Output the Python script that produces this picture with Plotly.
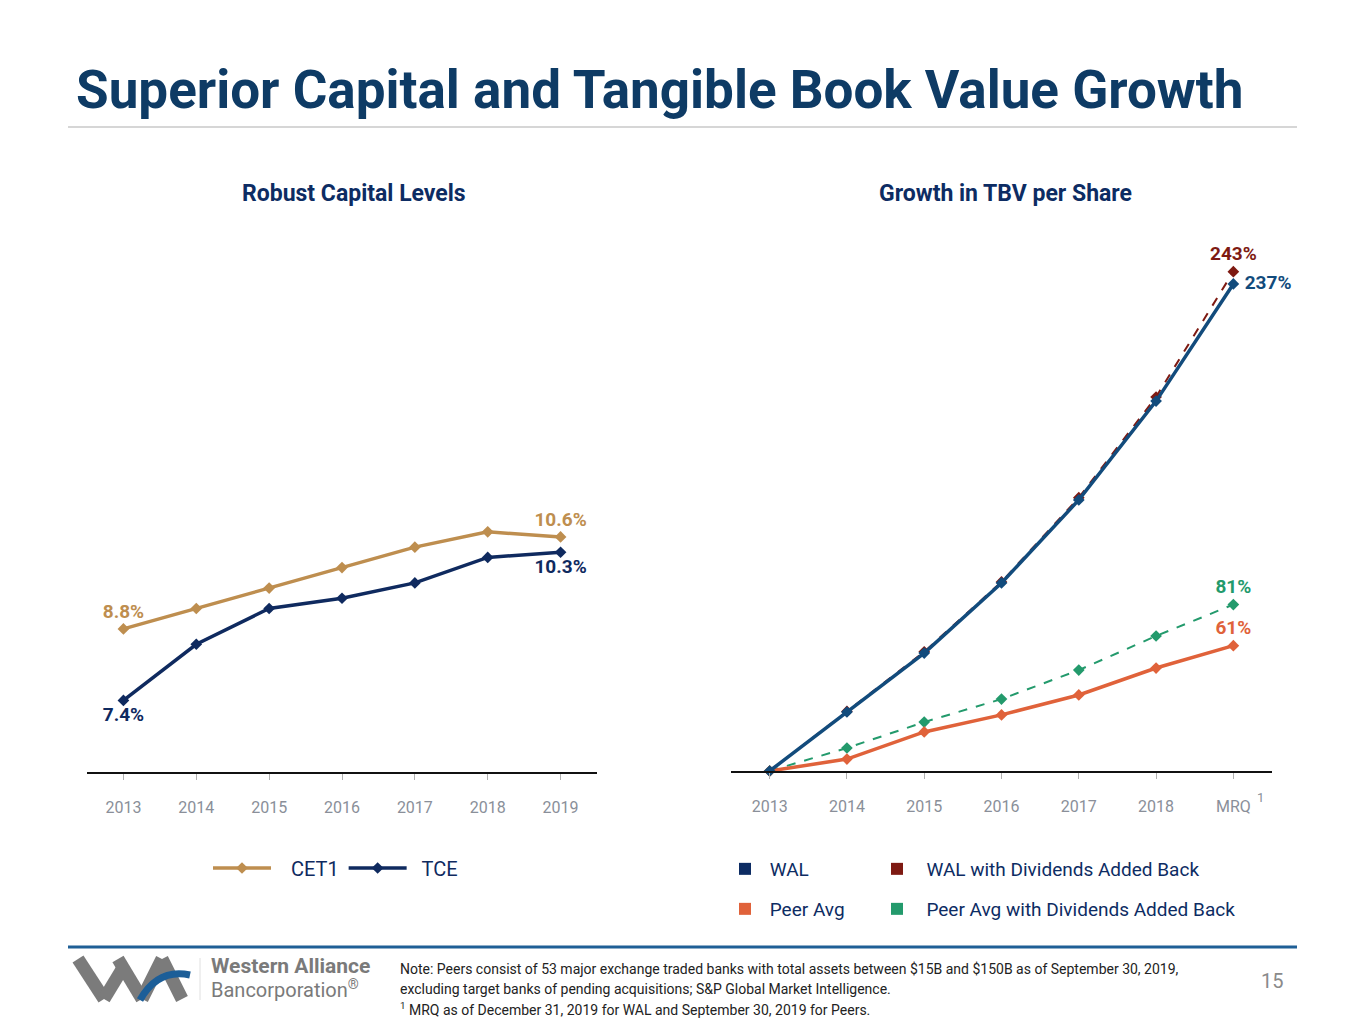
import plotly.graph_objects as go

W, H = 1365, 1024

# left chart data
years = ['2013', '2014', '2015', '2016', '2017', '2018', '2019']
cet1 = [8.8, 9.2, 9.6, 10.0, 10.4, 10.7, 10.6]
tce = [7.4, 8.5, 9.2, 9.4, 9.7, 10.2, 10.3]

# right chart data
periods = ['2013', '2014', '2015', '2016', '2017', '2018', 'MRQ']
wal = [0, 28.7, 57.4, 91.5, 131.9, 180, 237]
wal_div = [0, 29, 58, 92, 133, 182, 243]
peer = [0, 5.8, 19, 27.3, 37, 50.1, 61]
peer_div = [0, 11.2, 23.8, 35, 49.1, 65.7, 81]

NAVY = '#0E3B65'
GOLD = '#BE8E4F'
TCE_C = '#0F2A5F'
WAL_C = '#124B7C'
RED = '#7E1A12'
ORANGE = '#E0623A'
GREEN = '#239A6C'
GREY = '#8A8F99'
FONT = 'Roboto, sans-serif'
NB = '\u00a0'


def px(x):
    return x / W


def py(y):
    return 1 - y / H


def end_label(vals, fmt):
    return [''] * (len(vals) - 1) + ['<b>' + fmt.format(vals[-1]) + '</b>']


def both_ends(vals):
    return (['<b>{:.1f}%</b>'.format(vals[0])] + [''] * (len(vals) - 2)
            + ['<b>{:.1f}%</b>'.format(vals[-1])])


fig = go.Figure()

# ---- left: capital levels
fig.add_trace(go.Scatter(
    x=years, y=cet1, name=NB * 3 + 'CET1', mode='lines+markers+text',
    line=dict(color=GOLD, width=3.5),
    marker=dict(symbol='diamond', size=9, color=GOLD),
    text=both_ends(cet1), textposition='top center',
    textfont=dict(family=FONT, size=19, color=GOLD),
    cliponaxis=False, legend='legend', xaxis='x', yaxis='y'
))
fig.add_trace(go.Scatter(
    x=years, y=tce, name=NB * 2 + 'TCE', mode='lines+markers+text',
    line=dict(color=TCE_C, width=3.5),
    marker=dict(symbol='diamond', size=9, color=TCE_C),
    text=both_ends(tce), textposition='bottom center',
    textfont=dict(family=FONT, size=19, color=TCE_C),
    cliponaxis=False, legend='legend', xaxis='x', yaxis='y'
))

# ---- right: TBV growth
fig.add_trace(go.Scatter(
    x=periods, y=wal_div, mode='lines+markers+text', showlegend=False,
    line=dict(color=RED, width=2, dash='dash'),
    marker=dict(symbol='diamond', size=9, color=RED),
    text=end_label(wal_div, '{:.0f}%'), textposition='top center',
    textfont=dict(family=FONT, size=19, color=RED),
    cliponaxis=False, xaxis='x2', yaxis='y2'
))
fig.add_trace(go.Scatter(
    x=periods, y=peer_div, mode='lines+markers+text', showlegend=False,
    line=dict(color=GREEN, width=2, dash='dash'),
    marker=dict(symbol='diamond', size=9, color=GREEN),
    text=end_label(peer_div, '{:.0f}%'), textposition='top center',
    textfont=dict(family=FONT, size=19, color=GREEN),
    cliponaxis=False, xaxis='x2', yaxis='y2'
))
fig.add_trace(go.Scatter(
    x=periods, y=peer, mode='lines+markers+text', showlegend=False,
    line=dict(color=ORANGE, width=3.5),
    marker=dict(symbol='diamond', size=9, color=ORANGE),
    text=end_label(peer, '{:.0f}%'), textposition='top center',
    textfont=dict(family=FONT, size=19, color=ORANGE),
    cliponaxis=False, xaxis='x2', yaxis='y2'
))
fig.add_trace(go.Scatter(
    x=periods, y=wal, mode='lines+markers+text', showlegend=False,
    line=dict(color=WAL_C, width=3.5),
    marker=dict(symbol='diamond', size=9, color=WAL_C),
    text=end_label(wal, NB + '{:.0f}%'), textposition='middle right',
    textfont=dict(family=FONT, size=19, color=WAL_C),
    cliponaxis=False, xaxis='x2', yaxis='y2'
))

# legend entries for the right chart (square swatches), one legend each
right_legend = [(NB + 'WAL', '#0D2C63', 'legend2'),
                (NB * 2 + 'WAL with Dividends Added Back', RED, 'legend3'),
                (NB + 'Peer Avg', ORANGE, 'legend4'),
                (NB * 2 + 'Peer Avg with Dividends Added Back', GREEN, 'legend5')]
for name, col, lg in right_legend:
    fig.add_trace(go.Scatter(
        x=[None], y=[None], name=name, mode='markers',
        marker=dict(symbol='square', size=12, color=col),
        legend=lg, xaxis='x2', yaxis='y2'
    ))

xaxis_style = dict(
    type='category', range=[-0.5, 6.5], showgrid=False, zeroline=False,
    showline=True, linecolor='#111111', linewidth=2,
    ticks='outside', ticklen=6, tickcolor='#B0B0B0', tickwidth=1,
    ticklabelstandoff=14,
    tickfont=dict(family=FONT, size=16, color=GREY), fixedrange=True
)


def small_legend(x, y):
    return dict(orientation='h', x=px(x), y=py(y), xanchor='left', yanchor='middle',
                font=dict(family=FONT, size=19, color='#0D2C63'),
                bgcolor='rgba(0,0,0,0)')


fig.update_layout(
    width=W, height=H, margin=dict(l=0, r=0, t=0, b=0),
    paper_bgcolor='white', plot_bgcolor='white',
    xaxis=dict(domain=[px(87), px(597)], anchor='y', **xaxis_style),
    yaxis=dict(domain=[py(772), py(250)], range=[6.0, 6.0 + 522 / 51.1],
               visible=False, fixedrange=True),
    xaxis2=dict(domain=[px(731), px(1272)], anchor='y2', **xaxis_style),
    yaxis2=dict(domain=[py(771), py(230)], range=[0, 541 / 2.055],
                visible=False, fixedrange=True),
    legend=dict(orientation='h', x=px(208), y=py(868), xanchor='left', yanchor='middle',
                itemwidth=58, font=dict(family=FONT, size=20, color=TCE_C),
                bgcolor='rgba(0,0,0,0)'),
    legend2=small_legend(725, 869),
    legend3=small_legend(877, 869),
    legend4=small_legend(725, 909),
    legend5=small_legend(877, 909),
    showlegend=True,
)

ann = [
    dict(text='<b>Superior Capital and Tangible Book Value Growth</b>', x=px(74), y=py(90),
         xanchor='left', yanchor='middle', font=dict(family=FONT, size=53, color=NAVY)),
    dict(text='<b>Robust Capital Levels</b>', x=px(354), y=py(193),
         xanchor='center', yanchor='middle', font=dict(family=FONT, size=23, color='#0D2C63')),
    dict(text='<b>Growth in TBV per Share</b>', x=px(1005), y=py(193),
         xanchor='center', yanchor='middle', font=dict(family=FONT, size=23, color='#0D2C63')),
    dict(text='1', x=px(1260), y=py(797), xanchor='center', yanchor='middle',
         font=dict(family=FONT, size=13, color=GREY)),
    dict(text='<b>Western Alliance</b>', x=px(209), y=py(966), xanchor='left', yanchor='middle',
         font=dict(family=FONT, size=21, color='#7A7A7A')),
    dict(text='Bancorporation<sup>®</sup>', x=px(209), y=py(989), xanchor='left', yanchor='middle',
         font=dict(family=FONT, size=20, color='#7A7A7A')),
    dict(text='Note: Peers consist of 53 major exchange traded banks with total assets between $15B and $150B as of September 30, 2019,',
         x=px(398), y=py(969), xanchor='left', yanchor='middle',
         font=dict(family=FONT, size=14, color='#222222')),
    dict(text='excluding target banks of pending acquisitions; S&P Global Market Intelligence.',
         x=px(398), y=py(989), xanchor='left', yanchor='middle',
         font=dict(family=FONT, size=14, color='#222222')),
    dict(text='<sup>1</sup> MRQ as of December 31, 2019 for WAL and September 30, 2019 for Peers.',
         x=px(398), y=py(1009), xanchor='left', yanchor='middle',
         font=dict(family=FONT, size=14, color='#222222')),
    dict(text='15', x=px(1272), y=py(981), xanchor='center', yanchor='middle',
         font=dict(family=FONT, size=20, color='#8A8A8A')),
]
for a in ann:
    a.update(xref='paper', yref='paper', showarrow=False)
fig.update_layout(annotations=ann)

shapes = [
    dict(type='line', x0=px(68), x1=px(1297), y0=py(127), y1=py(127),
         line=dict(color='#C8C8C8', width=1.5)),
    dict(type='line', x0=px(68), x1=px(1297), y0=py(947), y1=py(947),
         line=dict(color='#1F5F96', width=3)),
]
# logo strokes
for (x0, y0, x1, y1) in [(78, 959, 104, 999), (104, 999, 124, 966),
                         (118, 959, 142, 999), (142, 999, 162, 959), (162, 959, 182, 999)]:
    shapes.append(dict(type='line', x0=px(x0), x1=px(x1), y0=py(y0), y1=py(y1),
                       line=dict(color='#7B7B7B', width=13)))
shapes.append(dict(type='path', path='M {} {} Q {} {} {} {}'.format(
    px(140), py(1000), px(158), py(968), px(190), py(975)),
    line=dict(color='#1C5E98', width=7)))
shapes.append(dict(type='line', x0=px(200), x1=px(200), y0=py(958), y1=py(1000),
                   line=dict(color='#E0E0E0', width=1)))
for s in shapes:
    s.update(xref='paper', yref='paper', layer='above')
fig.update_layout(shapes=shapes)

fig.write_html('out.html', config={'displayModeBar': False},
               post_script="document.body.style.margin='0';")
